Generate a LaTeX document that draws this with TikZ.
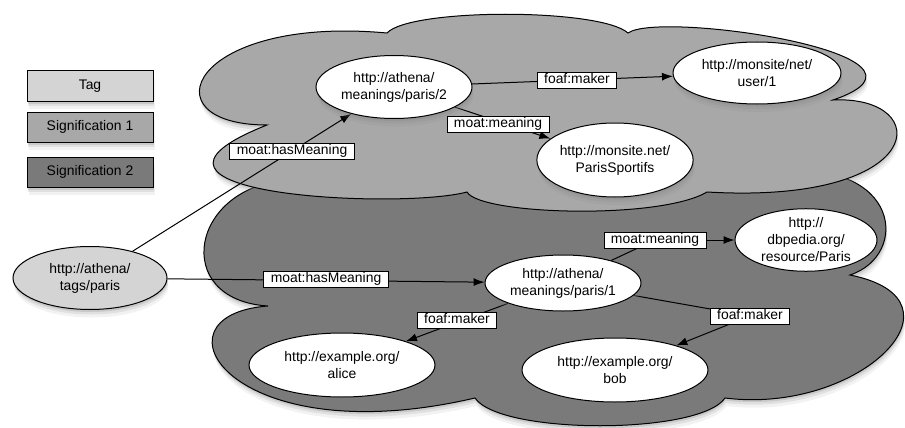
\documentclass[tikz,border=0pt]{standalone}
\usepackage{fontspec}
\setmainfont{Liberation Sans}
\usetikzlibrary{shapes.geometric,arrows.meta,shadows}
\definecolor{tagc}{HTML}{D4D4D4}
\definecolor{sigone}{HTML}{A8A8A8}
\definecolor{sigtwo}{HTML}{7A7A7A}
\newcommand\mytext{\fontsize{13.9}{17}\selectfont}
\pgfdeclarelayer{bg}
\pgfdeclarelayer{mid}
\pgfsetlayers{bg,mid,main}
\tikzset{
  softshadow/.style={
    drop shadow={opacity=0.10,shadow xshift=1.5pt,shadow yshift=-8pt},
    drop shadow={opacity=0.16,shadow xshift=1pt,shadow yshift=-5pt},
    drop shadow={opacity=0.24,shadow xshift=0.5pt,shadow yshift=-2.5pt}},
  res/.style={ellipse, draw, fill=white, line width=1pt, inner sep=0pt,
    align=center, softshadow, font=\mytext},
  lab/.style={rectangle, draw, fill=white, line width=0.8pt, inner xsep=7pt,
    inner ysep=1.5pt, text height=10pt, text depth=3pt, font=\mytext},
  legendbox/.style={rectangle, draw, line width=1pt, minimum width=126pt,
    minimum height=30pt, inner sep=0pt, softshadow, font=\mytext},
  edgeline/.style={line width=1pt},
  arr/.style={edgeline, -{Latex[length=11pt,width=8pt]}},
  cloudshape/.style={draw, line width=1pt, softshadow}
}
\begin{document}
\begin{tikzpicture}[x=1pt,y=-1pt]
\useasboundingbox (0,0) rectangle (905,428);

% clouds
\begin{pgfonlayer}{bg}
\path[cloudshape, fill=sigtwo]
  (290,180) .. controls (190,185) and (170,300) .. (268,306)
  .. controls (145,315) and (230,455) .. (475,398)
  .. controls (500,435) and (700,435) .. (725,398)
  .. controls (860,415) and (975,300) .. (850,275)
  .. controls (910,255) and (900,160) .. (780,172)
  -- cycle;
\path[cloudshape, fill=sigone]
  (267,125) .. controls (145,125) and (190,15) .. (387,33)
  .. controls (410,8) and (600,8) .. (628,33)
  .. controls (660,10) and (965,55) .. (833,100)
  .. controls (935,95) and (930,205) .. (707,192)
  .. controls (660,220) and (480,215) .. (467,192)
  .. controls (400,210) and (90,195) .. (267,125)
  -- cycle;
\end{pgfonlayer}

% legend
\node[legendbox, fill=tagc] (lgtag) at (90,86) {Tag};
\node[legendbox, fill=sigone] (lgone) at (90,127) {Signification 1};
\node[legendbox, fill=sigtwo] (lgtwo) at (90,172) {Signification 2};

% resources
\node[res, fill=tagc, minimum width=154pt, minimum height=63pt] (tag) at (90,278) {http://athena/\\tags/paris};
\node[res, minimum width=156pt, minimum height=63pt] (m2) at (394,87) {http://athena/\\meanings/paris/2};
\node[res, minimum width=168pt, minimum height=62pt] (user) at (757,73) {http://monsite/net/\\user/1};
\node[res, minimum width=156pt, minimum height=74pt] (sport) at (615,160) {http://monsite.net/\\ParisSportifs};
\node[res, minimum width=156pt, minimum height=56pt] (m1) at (563,283) {http://athena/\\meanings/paris/1};
\node[res, minimum width=142pt, minimum height=54pt] (dbp) at (806,240) {http://\\dbpedia.org/\\resource/Paris};
\node[res, minimum width=186pt, minimum height=64pt] (alice) at (342,365) {http://example.org/\\alice};
\node[res, minimum width=186pt, minimum height=64pt] (bob) at (615,370) {http://example.org/\\bob};

% labels
\node[lab] (l1) at (292,151) {moat:hasMeaning};
\node[lab] (l2) at (326,279) {moat:hasMeaning};
\node[lab] (l3) at (577,80) {foaf:maker};
\node[lab] (l4) at (498,124) {moat:meaning};
\node[lab] (l5) at (655,240) {moat:meaning};
\node[lab] (l6) at (457,320) {foaf:maker};
\node[lab] (l7) at (750,316) {foaf:maker};

% edges
\begin{pgfonlayer}{mid}
\draw[arr] (tag) -- (m2);
\draw[arr] (tag) -- (m1);
\draw[arr] (m2) -- (user);
\draw[arr] (m2) -- (sport);
\draw[edgeline] (m1) -- (l5);
\draw[arr] (l5) -- (dbp);
\draw[arr] (m1) -- (alice);
\draw[edgeline] (m1) -- (l7);
\draw[arr] (l7) -- (bob);
\end{pgfonlayer}
\end{tikzpicture}
\end{document}
